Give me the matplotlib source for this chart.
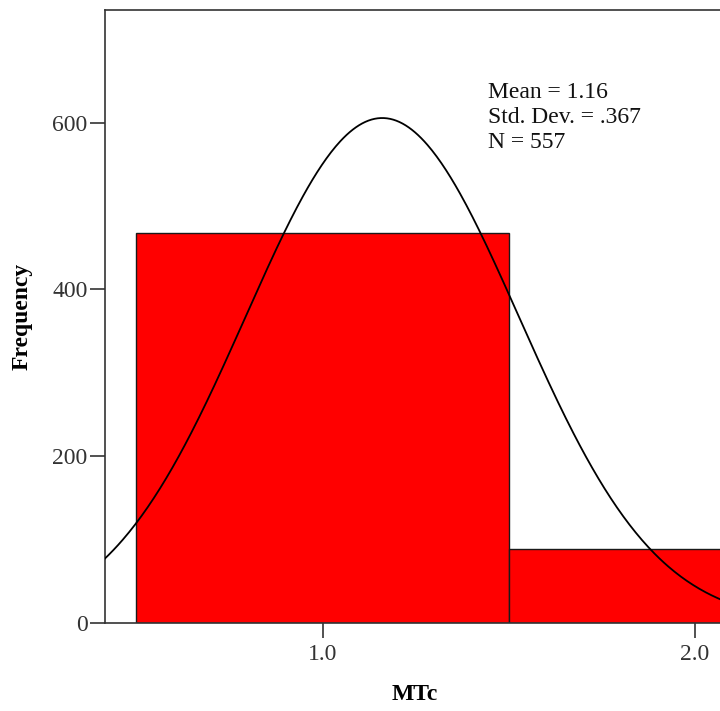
import numpy as np
import matplotlib.pyplot as plt

plt.rcParams['font.family'] = ['Liberation Serif', 'DejaVu Serif']

# MTc histogram (bin centres, counts) and summary stats
bin_centers = [1.0, 2.0]
counts = [468, 89]
bin_width = 1.0
mean_val = 1.16
std_val = 0.367
n_obs = 557

x_ticks = [1.0, 2.0]
x_tick_labels = ["1.0", "2.0"]
y_ticks = [0, 200, 400, 600]

fig = plt.figure(figsize=(7.2, 7.11), dpi=100)
ax = fig.add_axes([105 / 720, 88 / 711, 1 - 105 / 720, 613 / 711])

ax.bar(bin_centers, counts, width=bin_width, color="#ff0000",
       edgecolor="#1a1a1a", linewidth=1.0, zorder=2)

# normal curve scaled to the histogram
xs = np.linspace(0.0, 2.5, 600)
ys = n_obs * bin_width / (std_val * np.sqrt(2 * np.pi)) * np.exp(-0.5 * ((xs - mean_val) / std_val) ** 2)
ax.plot(xs, ys, color="black", linewidth=1.3, zorder=3)

ax.set_xlim(0.4155, 2.067)
ax.set_ylim(0, 735)

ax.set_xticks(x_ticks)
ax.set_xticklabels(x_tick_labels)
ax.set_yticks(y_ticks)
ax.tick_params(axis="x", length=11, width=1.2, color="#333333", labelsize=17,
               labelcolor="#333333", pad=4)
ax.tick_params(axis="y", length=11, width=1.2, color="#333333", labelsize=17,
               labelcolor="#333333", pad=1.5)

for side in ["left", "bottom", "top"]:
    ax.spines[side].set_color("#333333")
    ax.spines[side].set_linewidth(1.2)
ax.spines["right"].set_visible(False)

ax.set_ylabel("Frequency", fontsize=17, fontweight="bold")
ax.yaxis.set_label_coords(-0.117, 0.5)
ax.set_xlabel("MTc", fontsize=17, fontweight="bold")
ax.xaxis.set_label_coords(0.504, -0.100)

stats = ["Mean = 1.16", "Std. Dev. = .367", "N = 557"]
for i, line in enumerate(stats):
    ax.text(0.6228, 0.8564 - i * 0.0408, line, transform=ax.transAxes,
            fontsize=17, va="baseline", ha="left", color="#111111")

fig.savefig("out.png", dpi=100)
